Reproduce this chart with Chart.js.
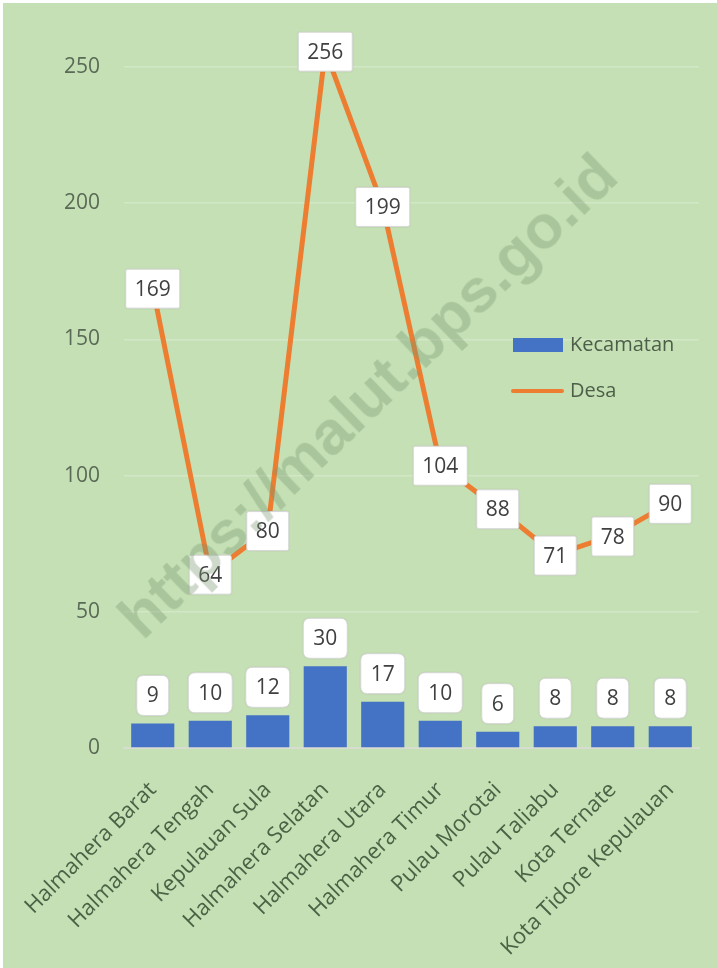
<!DOCTYPE html>
<html>
<head>
<meta charset="utf-8">
<script src="https://cdn.jsdelivr.net/npm/chart.js@4.4.1/dist/chart.umd.min.js"></script>
<style>
  html, body { margin: 0; padding: 0; background: #ffffff; }
  #wrap { position: relative; width: 717px; height: 968px; overflow: hidden; }
  #bg { position: absolute; left: 3px; top: 3px; width: 714px; height: 965px; background: #c5e0b4; }
  canvas { position: absolute; left: 0; top: 0; }
  .leg { position: absolute; font-family: "Open Sans", "Noto Sans", sans-serif; font-size: 20px; color: #4d5e49; line-height: 24px; }
  .sw { position: absolute; }
  #wm { position: absolute; left: 367px; top: 395px; transform: translate(-50%, -50%) rotate(-44deg);
        font-family: "Liberation Sans", Arial, sans-serif; font-weight: bold; font-size: 62px;
        color: rgba(120, 150, 110, 0.36); white-space: nowrap; pointer-events: none; }
</style>
</head>
<body>
<div id="wrap">
  <div id="bg"></div>
  <canvas id="c" width="717" height="968"></canvas>
  <div class="sw" style="left:513px;top:338px;width:50px;height:14px;background:#4472c4;"></div>
  <div class="leg" style="left:570px;top:332px;">Kecamatan</div>
  <div class="sw" style="left:511px;top:389px;width:53px;height:4px;background:#ed7d31;border-radius:2px;"></div>
  <div class="leg" style="left:570px;top:378px;">Desa</div>
  <div id="wm">https://malut.bps.go.id</div>
</div>
<script>
const categories = ["Halmahera Barat", "Halmahera Tengah", "Kepulauan Sula", "Halmahera Selatan", "Halmahera Utara", "Halmahera Timur", "Pulau Morotai", "Pulau Taliabu", "Kota Ternate", "Kota Tidore Kepulauan"];
const kecamatan = [9, 10, 12, 30, 17, 10, 6, 8, 8, 8];
const desa = [169, 64, 80, 256, 199, 104, 88, 71, 78, 90];
const yTicks = [0, 50, 100, 150, 200, 250];

function roundRect(ctx, x, y, w, h, r) {
  ctx.beginPath();
  ctx.moveTo(x + r, y);
  ctx.lineTo(x + w - r, y);
  ctx.quadraticCurveTo(x + w, y, x + w, y + r);
  ctx.lineTo(x + w, y + h - r);
  ctx.quadraticCurveTo(x + w, y + h, x + w - r, y + h);
  ctx.lineTo(x + r, y + h);
  ctx.quadraticCurveTo(x, y + h, x, y + h - r);
  ctx.lineTo(x, y + r);
  ctx.quadraticCurveTo(x, y, x + r, y);
  ctx.closePath();
}

const labelPlugin = {
  id: 'boxLabels',
  afterDatasetsDraw(chart) {
    const ctx = chart.ctx;
    ctx.save();
    ctx.font = '21px "Open Sans", "Noto Sans", sans-serif';
    ctx.textAlign = 'center';
    ctx.textBaseline = 'middle';
    chart.data.datasets.forEach((ds, di) => {
      const meta = chart.getDatasetMeta(di);
      meta.data.forEach((el, i) => {
        const txt = String(ds.data[i]);
        const tw = ctx.measureText(txt).width;
        const isBar = ds.type === 'bar';
        const w = tw + (isBar ? 20 : 18);
        const h = isBar ? 40 : 39;
        const cx = el.x;
        const cy = isBar ? el.y - 8 - h / 2 : el.y + 1;
        ctx.shadowColor = 'rgba(0,0,0,0.18)';
        ctx.shadowBlur = 2;
        roundRect(ctx, cx - w / 2, cy - h / 2, w, h, isBar ? 7 : 2);
        ctx.fillStyle = '#ffffff';
        ctx.fill();
        ctx.shadowColor = 'transparent';
        ctx.lineWidth = 1;
        ctx.strokeStyle = '#d6d6d6';
        ctx.stroke();
        ctx.fillStyle = '#404040';
        ctx.fillText(txt, cx, cy + 1);
      });
    });
    ctx.restore();
  }
};

new Chart(document.getElementById('c'), {
  data: {
    labels: categories,
    datasets: [
      {
        type: 'line',
        label: 'Desa',
        data: desa,
        borderColor: '#ed7d31',
        borderWidth: 5,
        pointRadius: 0,
        tension: 0,
        clip: false,
        order: 0
      },
      {
        type: 'bar',
        label: 'Kecamatan',
        data: kecamatan,
        backgroundColor: '#4472c4',
        barPercentage: 0.75,
        categoryPercentage: 1.0,
        order: 1
      }
    ]
  },
  options: {
    responsive: false,
    animation: false,
    layout: { padding: { left: 0, right: 18, top: 67, bottom: 0 } },
    plugins: { legend: { display: false }, tooltip: { enabled: false } },
    scales: {
      x: {
        grid: { display: false },
        border: { display: true, color: '#d7ddd0', width: 2 },
        afterFit(scale) { scale.paddingLeft = 0; scale.paddingRight = 0; scale.height = 220; },
        ticks: {
          minRotation: 45, maxRotation: 45,
          color: '#4a6346',
          font: { family: '"Open Sans", "Noto Sans", sans-serif', size: 22 },
          padding: 21
        }
      },
      y: {
        min: 0, max: 250,
        afterBuildTicks(axis) { axis.ticks = yTicks.map(v => ({ value: v })); },
        afterFit(scale) { scale.width = 124; },
        grid: {
          color: (c) => c.tick && c.tick.value === 0 ? 'rgba(0,0,0,0)' : '#d2e7c6',
          lineWidth: 1.5,
          drawTicks: false
        },
        border: { display: false },
        ticks: {
          color: '#5a6a56',
          font: { family: '"Open Sans", "Noto Sans", sans-serif', size: 21 },
          padding: 24
        }
      }
    }
  },
  plugins: [labelPlugin]
});
</script>
</body>
</html>
